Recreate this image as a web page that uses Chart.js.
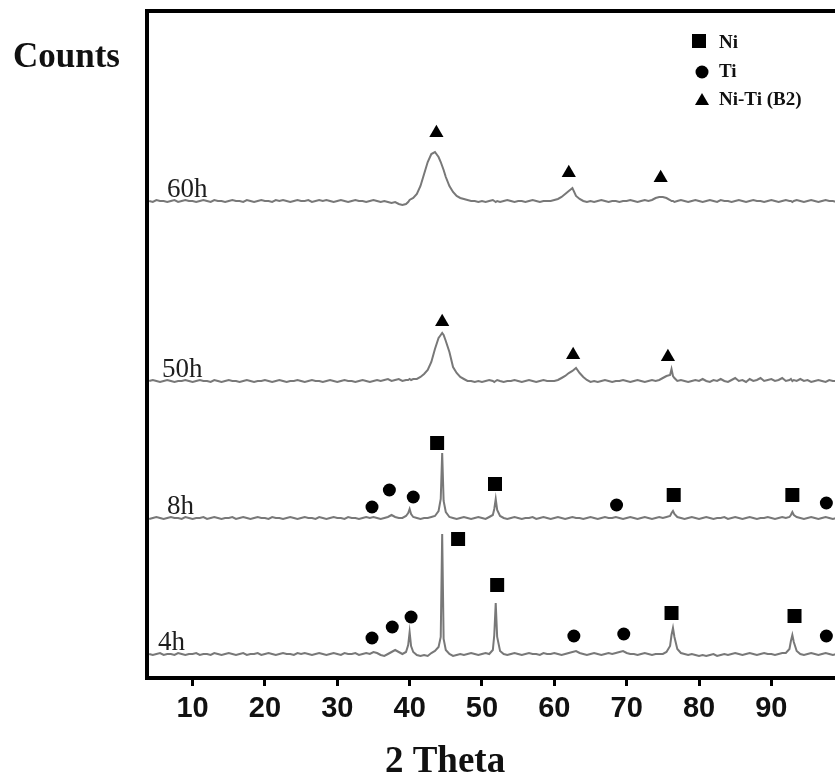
<!DOCTYPE html>
<html>
<head>
<meta charset="utf-8">
<script src="https://cdn.jsdelivr.net/npm/chart.js@4"></script>
<style>
  html, body { margin: 0; padding: 0; background: #fff; overflow: hidden; }
  #wrap { position: relative; width: 835px; height: 776px; overflow: hidden; background: #fff; }
  canvas { display: block; }
</style>
</head>
<body>
<div id="wrap"><canvas id="xrd" width="850" height="776"></canvas></div>
<script>
// 2-theta sampling grid (denser around the sharp Ni / Ti reflections)
const twoTheta = [
  4, 4.5, 5, 5.5, 6, 6.5, 7, 7.5, 8, 8.5, 9, 9.5,
  10, 10.5, 11, 11.5, 12, 12.5, 13, 13.5, 14, 14.5, 15, 15.5, 16, 16.5, 17, 17.5, 18, 18.5, 19, 19.5,
  20, 20.5, 21, 21.5, 22, 22.5, 23, 23.5, 24, 24.5, 25, 25.5, 26, 26.5, 27, 27.5, 28, 28.5, 29, 29.5,
  30, 30.5, 31, 31.5, 32, 32.5, 33, 33.5, 34, 34.5, 35, 35.5, 36, 36.5, 37, 37.5, 38, 38.5, 39, 39.5, 39.8,
  40, 40.2, 40.5, 41, 41.5, 42, 42.5, 43, 43.5, 44, 44.3, 44.5, 44.7, 45, 45.5, 46, 46.5, 47, 47.5, 48, 48.5, 49, 49.5,
  50, 50.5, 51, 51.5, 51.7, 51.9, 52.1, 52.5, 53, 53.5, 54, 54.5, 55, 55.5, 56, 56.5, 57, 57.5, 58, 58.5, 59, 59.5,
  60, 60.5, 61, 61.5, 62, 62.5, 63, 63.5, 64, 64.5, 65, 65.5, 66, 66.5, 67, 67.5, 68, 68.5, 69, 69.5,
  70, 70.5, 71, 71.5, 72, 72.5, 73, 73.5, 74, 74.5, 75, 75.5, 76, 76.2, 76.4, 76.6, 77, 77.5, 78, 78.5, 79, 79.5,
  80, 80.5, 81, 81.5, 82, 82.5, 83, 83.5, 84, 84.5, 85, 85.5, 86, 86.5, 87, 87.5, 88, 88.5, 89, 89.5,
  90, 90.5, 91, 91.5, 92, 92.5, 92.7, 92.9, 93.1, 93.5, 94, 94.5, 95, 95.5, 96, 96.5, 97, 97.5, 98, 98.5, 99, 99.5
];

// intensities above each pattern's own baseline
const counts4h = [
  1, 0, 1, 2, 0, 1, 1, 0, 2, 1, 0, 1,
  1, 2, 0, 1, 1, 0, 2, 1, 0, 1, 2, 1, 0, 1, 2, 0, 1, 1, 2, 0,
  1, 2, 1, 0, 1, 2, 1, 1, 0, 2, 1, 2, 1, 0, 1, 2, 1, 0, 1, 2,
  1, 0, 2, 1, 1, 2, 0, 1, 2, 1, 3, 2, 0, -1, 1, 3, 5, 3, 1, 3, 10,
  23, 9, 3, 0, -1, 0, -1, 2, 4, 8, 18, 121, 16, 5, 1, -1, 0, 1, 0, 1, 2, 1, 0,
  1, 2, 1, 5, 20, 52, 18, 4, 1, 0, 1, 2, 1, 0, 1, 2, 1, 1, 0, 2, 1, 1,
  2, 1, 0, 1, 2, 3, 4, 2, 1, 0, 1, 2, 1, 0, 1, 2, 1, 2, 3, 4,
  2, 1, 1, 0, 1, 2, 1, 0, 1, 1, 1, 3, 9, 20, 27, 18, 6, 2, 1, 0, 1, 0,
  -1, 0, -1, 0, 1, -1, 0, 1, 0, 1, 2, 1, 0, 1, 2, 1, 0, 1, 2, 1,
  1, 0, 1, 2, 2, 6, 14, 20, 13, 4, 1, 0, 1, 2, 1, 0, 1, 2, 1, 0, 1, 1
];
const counts8h = [
  0, 1, 2, 1, 0, 1, 2, 1, 1, 0, 2, 1,
  0, 1, 1, 2, 0, 1, 2, 1, 0, 1, 1, 2, 0, 1, 2, 1, 0, 1, 2, 1,
  1, 0, 2, 1, 1, 0, 1, 2, 1, 0, 1, 2, 1, 1, 0, 2, 1, 0, 1, 2,
  1, 1, 0, 2, 1, 1, 0, 1, 2, 1, 2, 1, 0, 1, 2, 4, 2, 1, 1, 3, 6,
  10, 5, 2, 1, 0, 1, 1, 2, 3, 8, 20, 66, 18, 7, 2, 1, 0, 1, 2, 1, 0, 1, 2,
  1, 0, 2, 4, 10, 20, 9, 3, 1, 0, 1, 2, 1, 0, 1, 1, 2, 0, 1, 2, 1, 0,
  1, 2, 1, 0, 1, 2, 1, 1, 0, 1, 2, 1, 0, 1, 2, 1, 1, 2, 1, 0,
  1, 2, 1, 0, 1, 2, 1, 0, 1, 2, 1, 2, 3, 6, 8, 5, 2, 1, 0, 1, 2, 1,
  0, 1, 2, 1, 0, 1, 1, 2, 0, 1, 2, 1, 0, 1, 2, 1, 0, 1, 1, 2,
  1, 0, 1, 2, 1, 2, 4, 7, 4, 2, 1, 0, 1, 2, 1, 0, 1, 2, 1, 0, 1, 2
];
const counts50h = [
  1, 2, 1, 0, 1, 2, 1, 0, 1, 1, 2, 1,
  0, 1, 2, 1, 1, 0, 2, 1, 0, 1, 2, 1, 1, 0, 1, 2, 1, 0, 1, 1,
  2, 1, 0, 1, 2, 1, 0, 1, 1, 2, 1, 0, 1, 2, 1, 1, 0, 1, 2, 1,
  0, 1, 2, 1, 1, 0, 1, 2, 1, 0, 1, 2, 1, 2, 3, 1, 2, 3, 1, 2, 2,
  3, 2, 3, 3, 5, 8, 12, 20, 33, 44, 47, 49, 47, 41, 30, 15, 9, 5, 3, 1, 1, 0, 1,
  0, 1, 2, 1, 0, 1, 2, 1, 0, 1, 1, 2, 1, 0, 1, 2, 1, 0, 1, 2, 1, 1,
  1, 2, 4, 6, 9, 11, 14, 9, 5, 2, 0, 1, 0, 1, 2, 1, 0, 1, 1, 2,
  1, 0, 1, 2, 1, 0, 1, 2, 1, 2, 4, 6, 7, 13, 6, 4, 1, 2, 1, 0, 1, 2,
  1, 3, 1, 0, 2, 1, 3, 1, 0, 2, 4, 1, 2, 0, 3, 1, 2, 4, 1, 2,
  3, 1, 2, 4, 1, 2, 3, 1, 2, 1, 3, 1, 2, 0, 1, 2, 1, 0, 2, 1, 1, 2
];
const counts60h = [
  1, 0, 2, 1, 1, 0, 1, 2, 0, 1, 2, 1,
  1, 0, 1, 2, 1, 0, 2, 1, 1, 0, 1, 2, 1, 1, 0, 2, 1, 0, 1, 2,
  1, 1, 0, 2, 1, 2, 1, 0, 1, 2, 1, 1, 2, 0, 1, 2, 1, 2, 1, 0,
  1, 2, 1, 0, 1, 2, 1, 1, 0, 1, 2, 1, 0, 1, 0, -1, 0, -2, -3, -2, 0,
  2, 3, 4, 8, 16, 28, 40, 48, 50, 45, 40, 36, 32, 25, 16, 10, 6, 4, 3, 2, 1, 1, 0,
  1, 0, 1, 2, 1, 0, 1, 0, 1, 2, 1, 0, 1, 1, 0, 1, 2, 1, 0, 1, 1, 1,
  2, 3, 5, 8, 11, 14, 6, 3, 1, 0, 1, 0, 1, 2, 1, 0, 1, 1, 0, 1,
  1, 2, 1, 0, 1, 2, 1, 2, 4, 5, 5, 4, 2, 1, 1, 0, 1, 2, 1, 0, 1, 2,
  1, 0, 1, 2, 1, 0, 2, 1, 1, 0, 1, 2, 1, 0, 1, 2, 1, 1, 0, 1,
  2, 1, 0, 1, 2, 1, 1, 0, 1, 2, 1, 0, 1, 2, 1, 0, 1, 2, 1, 1, 0, 1
];

const sampleNames = ['4h', '8h', '50h', '60h'];
const offsets = [23, 159, 296, 476];   // vertical stacking of the patterns

// phase markers: [2theta, height]
const niMarks = [
  [46.7, 139], [52.1, 93], [76.2, 65], [93.2, 62],
  [43.8, 235], [51.8, 194], [76.5, 183], [92.9, 183]
];
const tiMarks = [
  [34.8, 40], [37.6, 51], [40.2, 61], [62.7, 42], [69.6, 44], [97.6, 42],
  [34.8, 171], [37.2, 188], [40.5, 181], [68.6, 173], [97.6, 175]
];
const niTiMarks = [
  [44.5, 356], [62.6, 323], [75.7, 321],
  [43.7, 545], [62.0, 505], [74.7, 500]
];

const xTicks = [10, 20, 30, 40, 50, 60, 70, 80, 90];
const phaseNames = ['Ni', 'Ti', 'Ni-Ti (B2)'];

const traces = [counts4h, counts8h, counts50h, counts60h];

const lineSets = traces.map((c, i) => ({
  type: 'line',
  label: sampleNames[i],
  data: twoTheta.map((t, k) => ({ x: t, y: c[k] + offsets[i] })),
  borderColor: '#787878',
  borderWidth: 2,
  pointRadius: 0,
  tension: 0,
  order: 2
}));

function markerSet(label, pts, style, radius) {
  return {
    type: 'scatter',
    label: label,
    data: pts.map(p => ({ x: p[0], y: p[1] })),
    pointStyle: style,
    pointRadius: radius,
    pointHoverRadius: radius,
    backgroundColor: '#000',
    borderColor: '#000',
    borderWidth: 0,
    order: 1
  };
}

const markerSets = [
  markerSet('Ni', niMarks, 'rect', 9.9),
  markerSet('Ti', tiMarks, 'circle', 6.5),
  markerSet('Ni-Ti (B2)', niTiMarks, 'triangle', 8.2)
];

// left edge of each sample name, in canvas px
const nameLeft = [158, 167, 162, 167];

// frame, sample names, legend and axis captions
const decorations = {
  id: 'decorations',
  afterDraw(chart) {
    const { ctx, chartArea: a, scales } = chart;
    const y = scales.y;
    ctx.save();

    ctx.strokeStyle = '#000';
    ctx.lineWidth = 4;
    ctx.strokeRect(a.left, a.top, a.right - a.left, a.bottom - a.top);

    ctx.fillStyle = '#1e1e1e';
    ctx.font = '27px "Liberation Serif"';
    ctx.textBaseline = 'alphabetic';
    sampleNames.forEach((n, i) => {
      ctx.fillText(n, nameLeft[i], y.getPixelForValue(offsets[i]) - 5);
    });

    // legend
    ctx.fillStyle = '#000';
    ctx.fillRect(692, 34, 14, 14);
    ctx.beginPath();
    ctx.arc(702, 72, 6.5, 0, Math.PI * 2);
    ctx.fill();
    ctx.beginPath();
    ctx.moveTo(702, 93);
    ctx.lineTo(709, 105);
    ctx.lineTo(695, 105);
    ctx.closePath();
    ctx.fill();

    ctx.fillStyle = '#111';
    ctx.font = 'bold 19px "Liberation Serif"';
    ctx.textBaseline = 'middle';
    ctx.fillText(phaseNames[0], 719, 43);
    ctx.fillText(phaseNames[1], 719, 72);
    ctx.fillText(phaseNames[2], 719, 100);

    ctx.textBaseline = 'alphabetic';
    ctx.font = 'bold 35px "Liberation Serif"';
    ctx.fillText('Counts', 13, 67);
    ctx.font = 'bold 37px "Liberation Serif"';
    ctx.textAlign = 'center';
    ctx.fillText('2 Theta', 445, 772);

    ctx.restore();
  }
};

new Chart(document.getElementById('xrd'), {
  data: { datasets: [...markerSets, ...lineSets] },
  options: {
    responsive: false,
    animation: false,
    devicePixelRatio: 1,
    layout: { padding: { left: 147, top: 11, right: 8.45, bottom: 0 } },
    plugins: { legend: { display: false }, tooltip: { enabled: false } },
    scales: {
      x: {
        type: 'linear',
        min: 3.7,
        max: 99.5,
        afterFit: s => { s.height = 98; },
        afterBuildTicks: s => { s.ticks = xTicks.map(v => ({ value: v })); },
        grid: { display: true, drawOnChartArea: false, drawTicks: true, tickLength: 8, tickWidth: 3, tickColor: '#000' },
        border: { display: false },
        ticks: {
          autoSkip: false,
          maxRotation: 0,
          padding: 6,
          color: '#111',
          font: { family: 'Liberation Sans', weight: 'bold', size: 29 }
        }
      },
      y: { display: false, min: 0, max: 667 }
    }
  },
  plugins: [decorations]
});
</script>
</body>
</html>
